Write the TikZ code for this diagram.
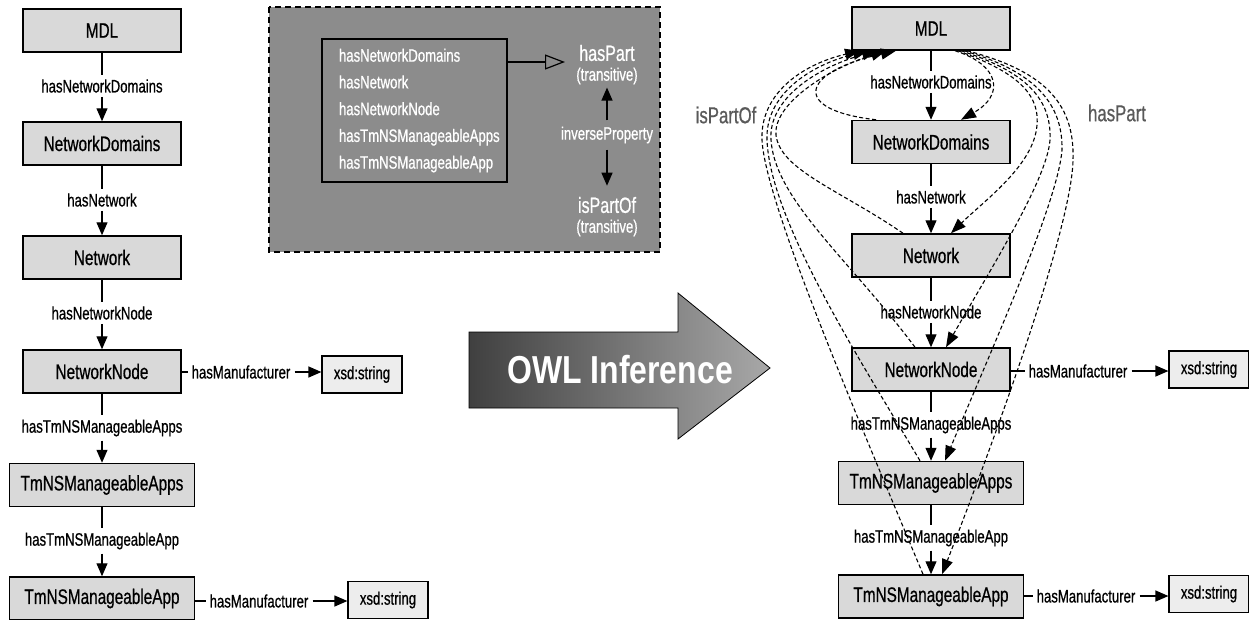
\documentclass[tikz,border=0pt]{standalone}
\usepackage{fontspec}
\setmainfont{Liberation Sans}[FakeStretch=0.73,FakeBold=0.7]
\newfontfamily\owlfont{Liberation Sans}[FakeStretch=0.82]
\usetikzlibrary{arrows.meta}

\definecolor{boxgray}{gray}{0.85}
\definecolor{xsdgray}{gray}{0.93}
\definecolor{panelgray}{gray}{0.55}
\definecolor{notegray}{gray}{0.35}
\definecolor{owldark}{gray}{0.25}
\definecolor{owllight}{gray}{0.66}

\tikzset{
  cls/.style={draw, line width=1.5pt, fill=boxgray, minimum width=158pt,
    minimum height=43pt, inner sep=0pt, font=\fontsize{21}{25}\selectfont},
  clswide/.style={cls, minimum width=185pt},
  lit/.style={draw, line width=1.2pt, fill=xsdgray, minimum width=80pt,
    minimum height=37pt, inner sep=0pt, font=\fontsize{18}{21}\selectfont},
  prop/.style={inner sep=4pt, font=\fontsize{18}{21}\selectfont},
  rel/.style={line width=1.2pt, -{Triangle[length=13pt,width=11pt]}},
  inferred/.style={line width=1.1pt, dash pattern=on 4pt off 2.5pt,
    -{Triangle[length=15pt,width=11pt]}},
  note/.style={text=notegray, font=\fontsize{23}{27}\selectfont},
  paneltext/.style={text=white, inner sep=3pt, font=\fontsize{18}{21}\selectfont}
}

\begin{document}
\begin{tikzpicture}[x=1pt,y=-1pt]
\useasboundingbox (0,0) rectangle (1249,619);

% left: asserted model
\node[cls] (mdl) at (102,30.5) {MDL};
\node[cls] (nd) at (102,143.5) {NetworkDomains};
\node[cls] (net) at (102,257.5) {Network};
\node[cls] (nn) at (102,371.5) {NetworkNode};
\node[clswide] (apps) at (102,485) {TmNSManageableApps};
\node[clswide] (app) at (102,598.5) {TmNSManageableApp};
\node[lit] (xsda) at (362,374.5) {xsd:string};
\node[lit] (xsdb) at (388,600) {xsd:string};

\node[prop] (pnd) at (102,86) {hasNetworkDomains};
\node[prop] (pnet) at (102,200) {hasNetwork};
\node[prop] (pnn) at (102,313) {hasNetworkNode};
\node[prop] (papps) at (102,428) {hasTmNSManageableApps};
\node[prop] (papp) at (102,541) {hasTmNSManageableApp};
\node[prop] (pmfa) at (241,372) {hasManufacturer};
\node[prop] (pmfb) at (259,601) {hasManufacturer};

\draw[line width=1.2pt] (mdl) -- (pnd);
\draw[rel] (pnd) -- (nd);
\draw[line width=1.2pt] (nd) -- (pnet);
\draw[rel] (pnet) -- (net);
\draw[line width=1.2pt] (net) -- (pnn);
\draw[rel] (pnn) -- (nn);
\draw[line width=1.2pt] (nn) -- (papps);
\draw[rel] (papps) -- (apps);
\draw[line width=1.2pt] (apps) -- (papp);
\draw[rel] (papp) -- (app);
\draw[line width=1.2pt] (nn.east |- pmfa) -- (pmfa);
\draw[rel] (pmfa) -- (xsda.west |- pmfa);
\draw[line width=1.2pt] (app.east |- pmfb) -- (pmfb);
\draw[rel] (pmfb) -- (xsdb.west |- pmfb);

% ontology panel
\draw[line width=1.5pt, dash pattern=on 6pt off 4pt, fill=panelgray] (269,7) rectangle (660,252);
\node[draw, line width=1.5pt, text=white, align=left, text width=151pt, inner xsep=17pt,
  minimum height=143pt, font=\fontsize{18}{26.75}\selectfont] (members) at (414.5,110.5)
  {hasNetworkDomains\\hasNetwork\\hasNetworkNode\\hasTmNSManageableApps\\hasTmNSManageableApp};
\node[paneltext, font=\fontsize{22}{26}\selectfont] (haspart) at (607,53) {hasPart};
\node[paneltext] (hptrans) at (607,76) {(transitive)};
\node[paneltext, inner ysep=6pt] (inverse) at (607,135) {inverseProperty};
\node[paneltext, font=\fontsize{22}{26}\selectfont] (ispartof) at (607,205) {isPartOf};
\node[paneltext] (iptrans) at (607,228) {(transitive)};
\coordinate (subtip) at (565,62);
\draw[line width=1.2pt, -{Triangle[open,length=20pt,width=15pt]}] (members.east |- subtip) -- (subtip);
\draw[rel] (inverse) -- (hptrans);
\draw[rel, shorten >=8pt] (inverse) -- (ispartof);

% inference arrow
\shadedraw[left color=owldark, right color=owllight, draw=black, line width=0.8pt]
  (469,332) -- (678,332) -- (678,293) -- (770,368) -- (678,439) -- (678,408) -- (469,408) -- cycle;
\node[text=white, font=\owlfont\bfseries\fontsize{39}{45}\selectfont] (owl) at (620,370) {OWL Inference};

% right: inferred model
\node[cls] (mdlR) at (931,28.5) {MDL};
\node[cls] (ndR) at (931,142) {NetworkDomains};
\node[cls] (netR) at (931,255.5) {Network};
\node[cls] (nnR) at (931,369.5) {NetworkNode};
\node[clswide] (appsR) at (931,483) {TmNSManageableApps};
\node[clswide] (appR) at (931,596.5) {TmNSManageableApp};
\node[lit] (xsdaR) at (1209,369.5) {xsd:string};
\node[lit] (xsdbR) at (1209,594) {xsd:string};

\node[prop] (pndR) at (931,82) {hasNetworkDomains};
\node[prop] (pnetR) at (931,197) {hasNetwork};
\node[prop] (pnnR) at (931,312) {hasNetworkNode};
\node[prop] (pappsR) at (931,425) {hasTmNSManageableApps};
\node[prop] (pappR) at (931,538) {hasTmNSManageableApp};
\node[prop] (pmfaR) at (1078,371) {hasManufacturer};
\node[prop] (pmfbR) at (1086,596) {hasManufacturer};

\draw[line width=1.2pt] (mdlR) -- (pndR);
\draw[rel] (pndR) -- (ndR);
\draw[line width=1.2pt] (ndR) -- (pnetR);
\draw[rel] (pnetR) -- (netR);
\draw[line width=1.2pt] (netR) -- (pnnR);
\draw[rel] (pnnR) -- (nnR);
\draw[line width=1.2pt] (nnR) -- (pappsR);
\draw[rel] (pappsR) -- (appsR);
\draw[line width=1.2pt] (appsR) -- (pappR);
\draw[rel] (pappR) -- (appR);
\draw[line width=1.2pt] (nnR.east |- pmfaR) -- (pmfaR);
\draw[rel] (pmfaR) -- (xsdaR.west |- pmfaR);
\draw[line width=1.2pt] (appR.east |- pmfbR) -- (pmfbR);
\draw[rel] (pmfbR) -- (xsdbR.west |- pmfbR);

\node[note] (ispartofnote) at (726,115) {isPartOf};
\node[note] (haspartnote) at (1117,113) {hasPart};

% isPartOf (inferred)
\draw[inferred] ([xshift=-55pt]ndR.north) .. controls (790,110) and (800,72) .. ([xshift=-35pt]mdlR.south);
\draw[inferred] ([xshift=-28pt]netR.north) .. controls (840,190) and (780,170) .. (776,135)
  .. controls (773,105) and (825,70) .. ([xshift=-45pt]mdlR.south);
\draw[inferred] ([xshift=-16pt]nnR.north) .. controls (850,260) and (775,200) .. (771,140)
  .. controls (768,100) and (815,68) .. ([xshift=-54pt]mdlR.south);
\draw[inferred] ([xshift=-11pt]appsR.north) .. controls (860,360) and (770,220) .. (767,140)
  .. controls (765,95) and (810,65) .. ([xshift=-63pt]mdlR.south);
\draw[inferred] ([xshift=-8pt]appR.north) .. controls (850,400) and (765,200) .. (762,140)
  .. controls (760,95) and (800,65) .. ([xshift=-71pt]mdlR.south);

% hasPart (inferred)
\draw[inferred] ([xshift=24pt]mdlR.south) .. controls (1000,65) and (1005,95) .. ([xshift=30pt]ndR.north);
\draw[inferred] ([xshift=27pt]mdlR.south) .. controls (1010,70) and (1040,90) .. (1037,125)
  .. controls (1034,165) and (985,200) .. ([xshift=20pt]netR.north);
\draw[inferred] ([xshift=30pt]mdlR.south) .. controls (1020,70) and (1052,95) .. (1050,140)
  .. controls (1047,180) and (990,270) .. ([xshift=15pt]nnR.north);
\draw[inferred] ([xshift=33pt]mdlR.south) .. controls (1030,70) and (1063,100) .. (1062,150)
  .. controls (1058,200) and (1000,330) .. ([xshift=14pt]appsR.north);
\draw[inferred] ([xshift=36pt]mdlR.south) .. controls (1040,70) and (1075,100) .. (1073,160)
  .. controls (1072,220) and (1010,400) .. ([xshift=11pt]appR.north);
\end{tikzpicture}
\end{document}
